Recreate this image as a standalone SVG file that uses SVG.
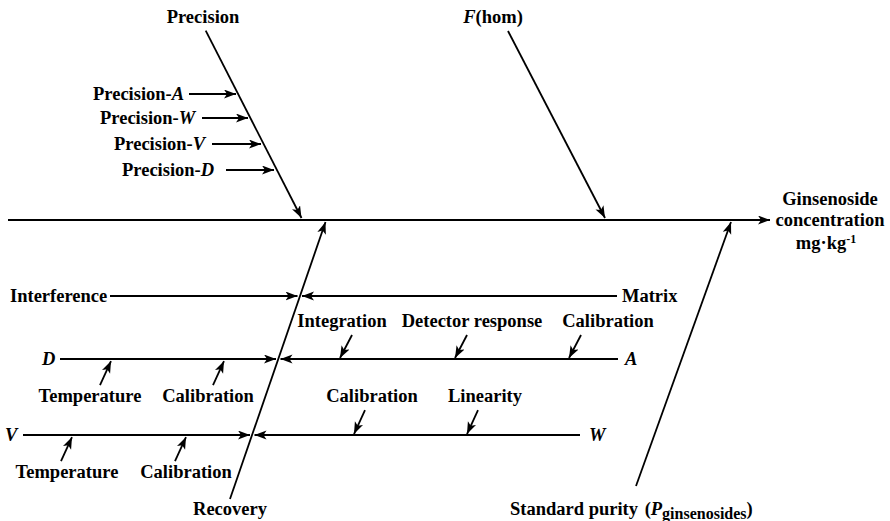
<svg xmlns="http://www.w3.org/2000/svg" width="890" height="521" viewBox="0 0 890 521">
<style>
text{font-family:"Liberation Serif","Times New Roman",serif;font-weight:bold;font-size:18.5px;fill:#000}
.i{font-style:italic}
.ln{stroke:#000;stroke-width:1.8;fill:none}
.ar{marker-end:url(#ah)}
</style>
<defs>
<marker id="ah" markerUnits="userSpaceOnUse" markerWidth="14" markerHeight="10" refX="12" refY="4.5" orient="auto">
<path d="M0,0 L12,4.5 L0,9 L3,4.5 Z" fill="#000"/>
</marker>
</defs>
<rect width="890" height="521" fill="#fff"/>
<g id="connectors">
<line class="ln ar" x1="8" y1="220" x2="770" y2="220" stroke-width="2"/>
<line class="ln ar" x1="205.7" y1="30.7" x2="301.5" y2="218"/>
<line class="ln ar" x1="508" y1="31" x2="605" y2="218"/>
<line class="ln ar" x1="230" y1="499" x2="325.5" y2="222"/>
<line class="ln ar" x1="636" y1="486" x2="731" y2="222"/>
<line class="ln ar" x1="189" y1="94" x2="236" y2="94"/>
<line class="ln ar" x1="202" y1="118" x2="248" y2="118"/>
<line class="ln ar" x1="212" y1="144" x2="261" y2="144"/>
<line class="ln ar" x1="226" y1="170" x2="274" y2="170"/>
<line class="ln ar" x1="110" y1="296" x2="297.5" y2="296"/>
<line class="ln ar" x1="617" y1="296" x2="302" y2="296"/>
<line class="ln ar" x1="60" y1="359" x2="276" y2="359"/>
<line class="ln ar" x1="618" y1="359" x2="280.5" y2="359"/>
<line class="ln ar" x1="23" y1="435" x2="250" y2="435"/>
<line class="ln ar" x1="580" y1="435" x2="254.5" y2="435"/>
<line class="ln ar" x1="352" y1="335" x2="340" y2="358"/>
<line class="ln ar" x1="467" y1="335" x2="455" y2="358"/>
<line class="ln ar" x1="581" y1="335" x2="569" y2="358"/>
<line class="ln ar" x1="100" y1="385" x2="111" y2="361"/>
<line class="ln ar" x1="213" y1="385" x2="224" y2="361"/>
<line class="ln ar" x1="61" y1="461" x2="72" y2="437"/>
<line class="ln ar" x1="175" y1="461" x2="186" y2="437"/>
<line class="ln ar" x1="365" y1="410" x2="354" y2="434"/>
<line class="ln ar" x1="478" y1="410" x2="467" y2="434"/>
</g>
<g id="effect">
<text x="830" y="205" text-anchor="middle">Ginsenoside</text>
<text x="830" y="226" text-anchor="middle">concentration</text>
<text x="826" y="249" text-anchor="middle">mg·kg<tspan font-size="12" dy="-6">-1</tspan></text>
</g>
<g id="precision"><text x="203" y="23" text-anchor="middle">Precision</text></g>
<g id="fhom"><text x="493" y="23" text-anchor="middle"><tspan class="i">F</tspan>(hom)</text></g>
<g id="precision-a"><text x="93" y="100">Precision-<tspan class="i">A</tspan></text></g>
<g id="precision-w"><text x="100" y="124">Precision-<tspan class="i">W</tspan></text></g>
<g id="precision-v"><text x="114" y="150">Precision-<tspan class="i">V</tspan></text></g>
<g id="precision-d"><text x="122" y="176">Precision-<tspan class="i">D</tspan></text></g>
<g id="interference"><text x="10" y="302">Interference</text></g>
<g id="matrix"><text x="622" y="302">Matrix</text></g>
<g id="integration"><text x="342" y="327" text-anchor="middle">Integration</text></g>
<g id="detector"><text x="472" y="327" text-anchor="middle">Detector response</text></g>
<g id="calibration-a"><text x="608" y="327" text-anchor="middle">Calibration</text></g>
<g id="d"><text class="i" x="42" y="365">D</text></g>
<g id="a"><text class="i" x="625" y="365">A</text></g>
<g id="temperature-d"><text x="90" y="402" text-anchor="middle">Temperature</text></g>
<g id="calibration-d"><text x="208" y="402" text-anchor="middle">Calibration</text></g>
<g id="calibration-w"><text x="372" y="402" text-anchor="middle">Calibration</text></g>
<g id="linearity"><text x="485" y="402" text-anchor="middle">Linearity</text></g>
<g id="v"><text class="i" x="5" y="441">V</text></g>
<g id="w"><text class="i" x="589" y="441">W</text></g>
<g id="temperature-v"><text x="67" y="478" text-anchor="middle">Temperature</text></g>
<g id="calibration-v"><text x="186" y="478" text-anchor="middle">Calibration</text></g>
<g id="recovery"><text x="230" y="515" text-anchor="middle">Recovery</text></g>
<g id="purity"><text x="510" y="515">Standard purity <tspan dx="2">(</tspan><tspan class="i">P</tspan><tspan font-size="16" dy="4">ginsenosides</tspan><tspan dy="-4">)</tspan></text></g>
</svg>
